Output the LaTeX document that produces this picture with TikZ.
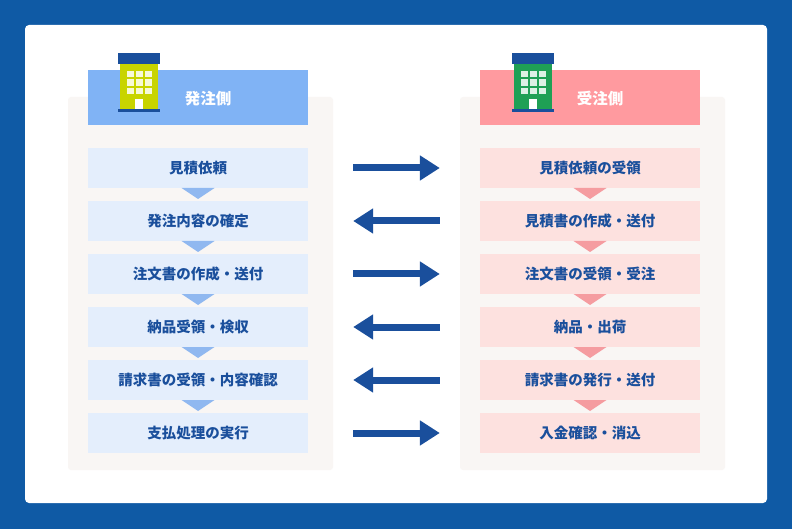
\documentclass[tikz,border=0pt]{standalone}
\usepackage{fontspec}
\newfontfamily\cjk{Noto Sans CJK JP}
\usetikzlibrary{arrows.meta}
\definecolor{outer}{HTML}{0F5AA5}
\definecolor{dblue}{HTML}{1A4F9C}
\definecolor{hblue}{HTML}{80B3F5}
\definecolor{bblue}{HTML}{E4EEFC}
\definecolor{tblue}{HTML}{90B8F0}
\definecolor{hpink}{HTML}{FF9A9F}
\definecolor{bpink}{HTML}{FDE1DF}
\definecolor{tpink}{HTML}{F59CA0}
\definecolor{panel}{HTML}{F9F6F4}
\definecolor{ylw}{HTML}{C8D400}
\definecolor{grn}{HTML}{1FA055}
\tikzset{
 stepbox/.style={minimum width=220pt,minimum height=40pt,inner sep=0pt,font=\cjk\bfseries\fontsize{14.5}{16}\selectfont,text=dblue},
 lbox/.style={stepbox,fill=bblue},
 rbox/.style={stepbox,fill=bpink},
 head/.style={minimum width=220pt,minimum height=55pt,inner sep=0pt,font=\cjk\bfseries\fontsize{15.5}{17}\selectfont,text=white,text depth=0pt},
 flow/.style={draw=dblue,line width=7pt,-{Triangle[length=20pt,width=24pt]}},
}
\newcommand{\bldg}[3]{% x y color
 \fill[dblue] (#1-21,#2-14) rectangle (#1+21,#2-3);
 \fill[#3] (#1-19,#2-3) rectangle (#1+19,#2+42);
 \foreach \i in {0,1,2}\foreach \j in {0,1,2}
   \fill[white!85!#3] (#1-12+\i*9,#2+4+\j*8.5) rectangle ++(7,6.5);
 \fill[white] (#1-4,#2+32) rectangle (#1+4,#2+42);
 \fill[dblue] (#1-21,#2+42) rectangle (#1+21,#2+45);
}
\begin{document}
\begin{tikzpicture}[x=1pt,y=-1pt]
\fill[outer] (0,0) rectangle (792,529);
\useasboundingbox (0,0) rectangle (792,529);
\fill[white,rounded corners=4pt] (25,25) rectangle (767,503);
\fill[panel,rounded corners=3pt] (68,97) rectangle (333,470);
\fill[panel,rounded corners=3pt] (460,97) rectangle (725,470);
\node[head,fill=hblue] (lh) at (198,97.5) {\hspace*{20pt}発注側};
\node[head,fill=hpink] (rh) at (590,97.5) {\hspace*{20pt}受注側};
\bldg{139}{67}{ylw}
\bldg{533}{67}{grn}
\foreach \n/\t [count=\k from 0] in {l1/見積依頼,l2/発注内容の確定,l3/注文書の作成・送付,l4/納品受領・検収,l5/請求書の受領・内容確認,l6/支払処理の実行}
  \node[lbox] (\n) at (198,168+53*\k) {\t};
\foreach \n/\t [count=\k from 0] in {r1/見積依頼の受領,r2/見積書の作成・送付,r3/注文書の受領・受注,r4/納品・出荷,r5/請求書の発行・送付,r6/入金確認・消込}
  \node[rbox] (\n) at (590,168+53*\k) {\t};
\foreach \k in {0,...,4}{
  \fill[tblue] (181.5,188+53*\k) -- (214.5,188+53*\k) -- (198,199+53*\k) -- cycle;
  \fill[tpink] (573.5,188+53*\k) -- (606.5,188+53*\k) -- (590,199+53*\k) -- cycle;
}
\foreach \a/\b/\d in {l1/r1/1,l2/r2/0,l3/r3/1,l4/r4/0,l5/r5/0,l6/r6/1}{
  \ifnum\d=1 \draw[flow] ([xshift=45pt]\a.east) -- ([xshift=-40pt]\b.west);
  \else \draw[flow] ([xshift=-40pt]\b.west) -- ([xshift=45pt]\a.east); \fi
}
\end{tikzpicture}
\end{document}
